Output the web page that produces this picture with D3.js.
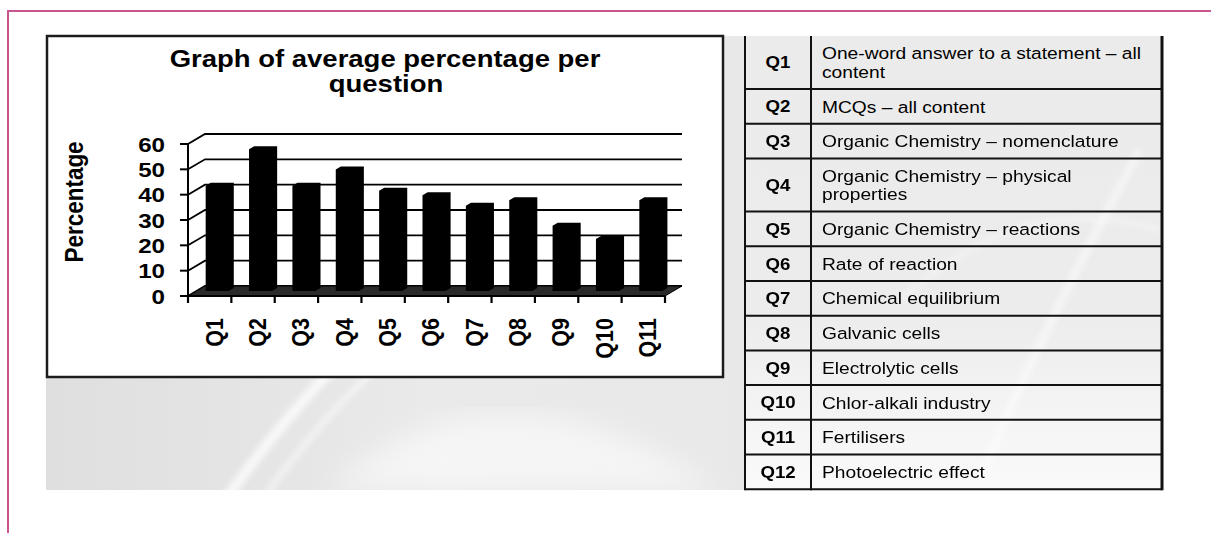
<!DOCTYPE html>
<html>
<head>
<meta charset="utf-8">
<script src="https://cdn.jsdelivr.net/npm/d3@7"></script>
<style>
  body { margin: 0; background: #fff; }
  svg { display: block; font-family: "Liberation Sans", Arial, sans-serif; }
</style>
</head>
<body>
<svg id="chart" width="1211" height="533"></svg>
<script>
// chart values
var categories = ["Q1", "Q2", "Q3", "Q4", "Q5", "Q6", "Q7", "Q8", "Q9", "Q10", "Q11"];
var averages = [41.5, 56, 41.5, 48, 39.6, 37.8, 33.7, 35.8, 25.8, 20.5, 35.8];
var yTicks = [0, 10, 20, 30, 40, 50, 60];

// table beside the graph
var tableCodes = ["Q1", "Q2", "Q3", "Q4", "Q5", "Q6", "Q7", "Q8", "Q9", "Q10", "Q11", "Q12"];
var tableTopics = [
  ["One-word answer to a statement \u2013 all", "content"],
  ["MCQs \u2013 all content"],
  ["Organic Chemistry \u2013 nomenclature"],
  ["Organic Chemistry \u2013 physical", "properties"],
  ["Organic Chemistry \u2013 reactions"],
  ["Rate of reaction"],
  ["Chemical equilibrium"],
  ["Galvanic cells"],
  ["Electrolytic cells"],
  ["Chlor-alkali industry"],
  ["Fertilisers"],
  ["Photoelectric effect"]
];

var svg = d3.select("#chart");
var sx = 1.15; // the original slide is a little stretched sideways

var defs = svg.append("defs");
var bg = defs.append("linearGradient").attr("id", "bgGrad")
    .attr("x1", 0).attr("y1", 0).attr("x2", 1).attr("y2", 0);
bg.append("stop").attr("offset", 0).attr("stop-color", "#dfdfdf");
bg.append("stop").attr("offset", 0.35).attr("stop-color", "#eaeaea");
bg.append("stop").attr("offset", 0.7).attr("stop-color", "#e8e8e8");
bg.append("stop").attr("offset", 1).attr("stop-color", "#eeeeee");
var tg = defs.append("linearGradient").attr("id", "tabGrad")
    .attr("x1", 0).attr("y1", 0).attr("x2", 0).attr("y2", 1);
tg.append("stop").attr("offset", 0).attr("stop-color", "#ebebeb");
tg.append("stop").attr("offset", 0.6).attr("stop-color", "#ececec");
tg.append("stop").attr("offset", 1).attr("stop-color", "#fafafa");
defs.append("filter").attr("id", "soft")
  .append("feGaussianBlur").attr("stdDeviation", 3);
defs.append("filter").attr("id", "softer")
  .append("feGaussianBlur").attr("stdDeviation", 14);
defs.append("clipPath").attr("id", "panelClip")
  .append("rect").attr("x", 46).attr("y", 36).attr("width", 1116).attr("height", 454);

// pink frame
svg.append("path")
    .attr("d", "M8,533V11H1211")
    .attr("fill", "none")
    .attr("stroke", "#c9558f")
    .attr("stroke-width", 2);

// grey photo background
var panel = svg.append("g").attr("clip-path", "url(#panelClip)");
panel.append("rect").attr("x", 46).attr("y", 36).attr("width", 1116).attr("height", 454)
    .attr("fill", "url(#bgGrad)");
panel.append("rect").attr("x", 746).attr("y", 36).attr("width", 416).attr("height", 454)
    .attr("fill", "url(#tabGrad)");
panel.append("path").attr("filter", "url(#softer)")
    .attr("d", "M330,490 C420,400 560,380 720,490Z")
    .attr("fill", "#fff").attr("opacity", 0.55);
var swoosh = panel.append("g").attr("filter", "url(#soft)").attr("fill", "none").attr("stroke", "#fff");
swoosh.append("path").attr("d", "M225,500 C290,410 350,340 460,260").attr("stroke-width", 10).attr("opacity", 0.75);
swoosh.append("path").attr("d", "M262,500 C320,420 380,350 500,280").attr("stroke-width", 6).attr("opacity", 0.55);
swoosh.append("path").attr("d", "M980,480 C1020,380 1080,260 1140,150").attr("stroke-width", 8).attr("opacity", 0.5);
swoosh.append("path").attr("d", "M900,300 C980,230 1060,200 1160,230").attr("stroke-width", 5).attr("opacity", 0.4);

// chart box
svg.append("rect")
    .attr("x", 47).attr("y", 36).attr("width", 676).attr("height", 341)
    .attr("fill", "#fff")
    .attr("stroke", "#1c1c1c")
    .attr("stroke-width", 2.5);

// title
var title = svg.append("g").attr("font-weight", "bold").attr("font-size", 23.5).attr("fill", "#000")
    .attr("text-anchor", "middle");
title.append("text").attr("transform", "translate(385,67) scale(1.17,1)")
    .text("Graph of average percentage per");
title.append("text").attr("transform", "translate(386,92) scale(1.17,1)")
    .text("question");

// 3d column chart
var depth = {dx: 17, dy: -10};
var x = d3.scaleBand().domain(categories).range([188, 665]).padding(0);
var y = d3.scaleLinear().domain([0, 60]).range([296, 144]);
var xEnd = x.range()[1];

var plot = svg.append("g");

// back wall and side wall gridlines
yTicks.forEach(function(t) {
  plot.append("path")
      .attr("d", "M" + x.range()[0] + "," + y(t) +
                 "L" + (x.range()[0] + depth.dx) + "," + (y(t) + depth.dy) +
                 "H" + (xEnd + depth.dx))
      .attr("fill", "none")
      .attr("stroke", "#000")
      .attr("stroke-width", 1.8);
});

// floor
plot.append("path")
    .attr("d", "M" + x.range()[0] + "," + y(0) +
               "H" + xEnd +
               "L" + (xEnd + depth.dx) + "," + (y(0) + depth.dy) +
               "H" + (x.range()[0] + depth.dx) + "Z")
    .attr("fill", "#2a2a2a")
    .attr("stroke", "#000")
    .attr("stroke-width", 1);

// bars: front face at mid depth, with a shallow top and side
var bw = 23, mid = 0.5, bd = 0.3;
plot.selectAll(".bar")
  .data(categories)
  .enter().append("path")
    .attr("class", "bar")
    .attr("fill", "#000")
    .attr("d", function(c, i) {
      var x0 = x(c) + (x.bandwidth() - bw) / 2 + depth.dx * mid - 1;
      var yb = y(0) + depth.dy * mid;
      var yt = y(averages[i]) + depth.dy * mid;
      var ox = depth.dx * bd, oy = depth.dy * bd;
      return "M" + x0 + "," + yb + "V" + yt +
             "L" + (x0 + ox) + "," + (yt + oy) +
             "H" + (x0 + bw + ox) +
             "V" + (yb + oy) +
             "L" + (x0 + bw) + "," + yb + "Z";
    });

// y axis
var yAxis = plot.append("g");
yAxis.append("line")
    .attr("x1", x.range()[0]).attr("x2", x.range()[0])
    .attr("y1", y(0)).attr("y2", y(60))
    .attr("stroke", "#000").attr("stroke-width", 2);
yAxis.selectAll(".ytick")
  .data(yTicks)
  .enter().append("line")
    .attr("x1", x.range()[0] - 8).attr("x2", x.range()[0])
    .attr("y1", function(d) { return y(d); })
    .attr("y2", function(d) { return y(d); })
    .attr("stroke", "#000").attr("stroke-width", 2);
yAxis.selectAll(".ylab")
  .data(yTicks)
  .enter().append("text")
    .attr("transform", function(d) { return "translate(165," + y(d) + ") scale(" + sx + ",1)"; })
    .attr("dy", "0.36em")
    .attr("text-anchor", "end")
    .attr("font-weight", "bold")
    .attr("font-size", 21)
    .text(function(d) { return d; });

// x axis
var xAxis = plot.append("g");
xAxis.append("line")
    .attr("x1", x.range()[0]).attr("x2", xEnd)
    .attr("y1", y(0)).attr("y2", y(0))
    .attr("stroke", "#000").attr("stroke-width", 2);
xAxis.selectAll(".xtick")
  .data(categories.concat(["end"]))
  .enter().append("line")
    .attr("x1", function(c, i) { return x.range()[0] + i * x.step(); })
    .attr("x2", function(c, i) { return x.range()[0] + i * x.step(); })
    .attr("y1", y(0)).attr("y2", y(0) + 7)
    .attr("stroke", "#000").attr("stroke-width", 2.2);
xAxis.selectAll(".xlab")
  .data(categories)
  .enter().append("text")
    .attr("transform", function(c) {
      return "translate(" + (x(c) + x.bandwidth() / 2 + 4) + ",318) rotate(-90) scale(1," + sx + ")";
    })
    .attr("dy", "0.36em")
    .attr("text-anchor", "end")
    .attr("font-weight", "bold")
    .attr("font-size", 21.5)
    .text(function(c) { return c; });

// y axis title
svg.append("text")
    .attr("transform", "translate(74,202) rotate(-90) scale(1," + sx + ")")
    .attr("dy", "0.36em")
    .attr("text-anchor", "middle")
    .attr("font-weight", "bold")
    .attr("font-size", 22.5)
    .text("Percentage");

// table
var tab = svg.append("g");
var tabLeft = 745, tabMid = 811, tabRight = 1162, tabTop = 36;
var lineH = 18.4, rowBase = 34.7;
var rowY = [tabTop];
tableTopics.forEach(function(lines, i) {
  rowY.push(rowY[i] + rowBase + (lines.length - 1) * lineH);
});

tableCodes.forEach(function(code, i) {
  var top = rowY[i], bot = rowY[i + 1], cy = (top + bot) / 2;
  tab.append("line")
      .attr("x1", tabLeft).attr("x2", tabRight)
      .attr("y1", bot).attr("y2", bot)
      .attr("stroke", "#111").attr("stroke-width", 2);
  tab.append("text")
      .attr("transform", "translate(" + ((tabLeft + tabMid) / 2) + "," + cy + ") scale(1.13,1)")
      .attr("dy", "0.36em")
      .attr("text-anchor", "middle")
      .attr("font-weight", "bold")
      .attr("font-size", 16.5)
      .text(code);
  var lines = tableTopics[i];
  lines.forEach(function(t, j) {
    var ly = cy + (j - (lines.length - 1) / 2) * lineH;
    tab.append("text")
        .attr("transform", "translate(822," + ly + ") scale(1.13,1)")
        .attr("dy", "0.36em")
        .attr("font-size", 17)
        .text(t);
  });
});
[[tabLeft, 2], [tabMid, 2], [tabRight, 3]].forEach(function(v) {
  tab.append("line")
      .attr("x1", v[0]).attr("x2", v[0])
      .attr("y1", tabTop).attr("y2", rowY[rowY.length - 1] + 1)
      .attr("stroke", "#111").attr("stroke-width", v[1]);
});
</script>
</body>
</html>
